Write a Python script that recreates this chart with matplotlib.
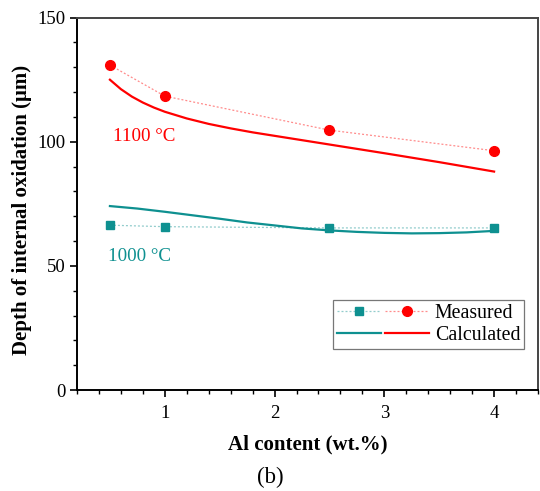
import matplotlib
matplotlib.use("Agg")
import matplotlib.pyplot as plt
from matplotlib.legend_handler import HandlerTuple
from matplotlib.ticker import MultipleLocator

plt.rcParams['font.family'] = ['Liberation Serif', 'DejaVu Serif']

# Measured depth of internal oxidation (um) vs Al content (wt.%)
al_measured = [0.5, 1.0, 2.5, 4.0]
meas_1100 = [130.9, 118.4, 104.7, 96.4]
meas_1000 = [66.4, 65.8, 65.3, 65.3]

# Calculated depth curves
al_calc_1100 = [0.5, 0.6, 0.7, 0.8, 0.9, 1.0, 1.2, 1.4, 1.6, 1.8, 2.0, 2.5, 3.0, 3.5, 4.0]
calc_1100 = [125.0, 121.2, 118.2, 115.8, 113.8, 112.1, 109.4, 107.2, 105.4, 103.8, 102.4,
             98.9, 95.4, 91.8, 88.0]
al_calc_1000 = [0.5, 0.75, 1.0, 1.25, 1.5, 1.75, 2.0, 2.25, 2.5, 2.75, 3.0, 3.25, 3.5, 3.75, 4.0]
calc_1000 = [74.1, 73.1, 71.8, 70.4, 69.0, 67.5, 66.3, 65.1, 64.3, 63.7, 63.3, 63.1, 63.2, 63.5, 64.1]

temp_labels = ['1100 °C', '1000 °C']

RED = '#ff0000'
TEAL = '#0e9090'

fig = plt.figure(figsize=(5.40, 4.91), dpi=100)
ax = fig.add_axes([0.1426, 0.2057, 0.8537, 0.7583])

dot = (0, (1.6, 1.6))
m_teal, = ax.plot(al_measured, meas_1000, linestyle=dot, color=(0.05, 0.56, 0.56, 0.45),
                  lw=0.9, marker='s', ms=6.2, mfc=TEAL, mec=TEAL, zorder=3)
m_red, = ax.plot(al_measured, meas_1100, linestyle=dot, color=(1, 0, 0, 0.45),
                 lw=0.9, marker='o', ms=7, mfc=RED, mec=RED, zorder=3)

c_teal, = ax.plot(al_calc_1000, calc_1000, '-', color=TEAL, lw=1.6, zorder=2)
c_red, = ax.plot(al_calc_1100, calc_1100, '-', color=RED, lw=1.6, zorder=2)

ax.text(0.527, 102.0, temp_labels[0], color=RED, fontsize=13.7, ha='left', va='center')
ax.text(0.484, 53.6, temp_labels[1], color=TEAL, fontsize=13.7, ha='left', va='center')

ax.set_xlim(0.2, 4.4)
ax.set_ylim(0, 150)
ax.xaxis.set_major_locator(MultipleLocator(1))
ax.xaxis.set_minor_locator(MultipleLocator(0.2))
ax.yaxis.set_major_locator(MultipleLocator(50))
ax.yaxis.set_minor_locator(MultipleLocator(10))
ax.tick_params(which='major', direction='out', length=5, width=1.2, labelsize=13.5)
ax.tick_params(axis='x', which='major', pad=6)
ax.tick_params(axis='y', which='major', pad=3)
ax.tick_params(which='minor', direction='out', length=3, width=1.0)

for side in ('left', 'bottom'):
    ax.spines[side].set_linewidth(1.4)
    ax.spines[side].set_color('black')
for side in ('top', 'right'):
    ax.spines[side].set_linewidth(1.4)
    ax.spines[side].set_color('#444444')

ax.set_xlabel('Al content (wt.%)', fontsize=15, fontweight='bold', labelpad=9)
ax.set_ylabel('Depth of internal oxidation (μm)', fontsize=15, fontweight='bold')
ax.yaxis.set_label_coords(-0.098, 0.484)

leg = ax.legend([(m_teal, m_red), (c_teal, c_red)], ['Measured', 'Calculated'],
                handler_map={tuple: HandlerTuple(ndivide=None, pad=0.2)},
                handlelength=4.6, handletextpad=0.3, fontsize=14.3,
                loc='lower right', bbox_to_anchor=(0.97, 0.11),
                frameon=True, fancybox=False, edgecolor='#555555',
                borderpad=0.2, labelspacing=0.15, borderaxespad=0)
leg.get_frame().set_linewidth(0.9)

fig.text(0.5, 0.028, '(b)', fontsize=16.5, ha='center', va='center')

fig.savefig('out.png', dpi=100)
